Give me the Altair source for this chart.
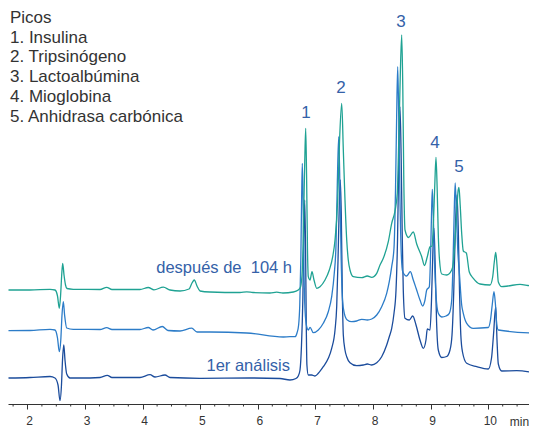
import altair as alt
import pandas as pd

# ---------------- data (time in min, signal in arbitrary units incl. offset) -------------
dark_t = [1.670, 2.043, 2.391, 2.477, 2.530, 2.564, 2.590, 2.608, 2.630, 2.651, 2.681, 2.738,
          2.911, 3.259, 3.385, 3.467, 3.953, 4.127, 4.214, 4.387, 4.474, 4.995, 5.863, 6.384,
          6.557, 6.661, 6.701, 6.731, 6.757, 6.780, 6.797, 6.813, 6.828, 6.839, 6.851, 6.875,
          6.934, 6.991, 7.049, 7.135, 7.222, 7.281, 7.339, 7.368, 7.391, 7.413, 7.431, 7.448,
          7.465, 7.483, 7.512, 7.542, 7.599, 7.715, 7.830, 7.899, 7.976, 8.063, 8.149, 8.236,
          8.281, 8.323, 8.363, 8.398, 8.424, 8.446, 8.467, 8.488, 8.507, 8.524, 8.554, 8.628,
          8.688, 8.745, 8.814, 8.872, 8.918, 8.941, 8.988, 9.014, 9.036, 9.057, 9.078, 9.101,
          9.132, 9.191, 9.278, 9.335, 9.370, 9.401, 9.427, 9.457, 9.479, 9.500, 9.523, 9.552,
          9.625, 9.799, 10.000, 10.056, 10.090, 10.129, 10.151, 10.174, 10.233, 10.493, 10.845]
dark_v = [25, 25.5, 26.5, 25, 18, 2.3, 18, 43, 58, 43, 29, 25,
          25, 25.5, 27.7, 25.5, 25.5, 28.3, 26, 28, 25.5, 24.7, 25, 24.5,
          23, 24.5, 27, 33, 58, 103, 163, 203, 153, 83, 38, 28,
          28, 27, 29.7, 36.3, 44.7, 54.7, 73, 96.3, 143, 198, 223, 188,
          113, 68, 53, 46.3, 40.3, 37.3, 38, 39, 38, 40.3, 46.3, 58,
          66.3, 74.7, 89.7, 113, 163, 243, 296.3, 243, 163, 113, 84.7, 83,
          87, 78, 63, 54.7, 63, 74, 73, 103, 148, 174.7, 138, 83,
          53, 45.5, 46.5, 53, 68, 113, 173, 208, 173, 113, 68, 51,
          39.7, 36.3, 34, 45, 68, 96.3, 63, 39, 32, 32.3, 29.7]

mid_t = [1.670, 2.043, 2.391, 2.477, 2.521, 2.552, 2.578, 2.599, 2.622, 2.644, 2.681, 2.795,
         3.259, 3.375, 3.467, 3.953, 4.097, 4.179, 4.340, 4.439, 4.648, 4.851, 4.943, 5.168,
         5.806, 6.441, 6.557, 6.644, 6.679, 6.707, 6.727, 6.745, 6.759, 6.771, 6.785, 6.800,
         6.818, 6.847, 6.875, 6.905, 6.962, 7.049, 7.135, 7.222, 7.281, 7.326, 7.356, 7.380,
         7.403, 7.425, 7.446, 7.469, 7.500, 7.552, 7.628, 7.715, 7.802, 7.899, 7.976, 8.063,
         8.149, 8.236, 8.281, 8.323, 8.363, 8.389, 8.408, 8.427, 8.446, 8.467, 8.490, 8.514,
         8.583, 8.646, 8.698, 8.745, 8.814, 8.861, 8.901, 8.931, 8.976, 9.000, 9.014, 9.028,
         9.045, 9.066, 9.092, 9.132, 9.191, 9.266, 9.323, 9.365, 9.384, 9.405, 9.425, 9.448,
         9.470, 9.497, 9.538, 9.566, 9.625, 9.740, 10.000, 10.038, 10.068, 10.099, 10.125,
         10.148, 10.174, 10.845]
mid_v = [72.3, 72.5, 73.7, 73, 65, 51.3, 63, 88, 101.3, 88, 75, 73.7,
         73.5, 75.3, 73.5, 73.5, 75.5, 73, 76.5, 72.5, 72, 74.8, 71, 71,
         70, 66, 66.3, 66.3, 70, 78, 98, 143, 203, 239.7, 203, 133,
         93, 76.3, 73, 75.7, 70.3, 73, 79.7, 91.3, 106.3, 129.7, 158, 223,
         266.3, 213, 143, 103, 89.7, 83, 81.3, 82, 83.7, 83, 84, 88,
         96.3, 109.7, 121.3, 136.3, 155, 213, 283, 336.3, 283, 203, 148, 131.3,
         127, 131.3, 123, 115, 103, 97, 103, 113, 116.3, 153, 188, 213.7,
         188, 143, 108, 89.7, 86, 87, 89.7, 103, 133, 183, 220, 188,
         153, 131, 98, 89.7, 79.7, 74.7, 75.5, 83, 98, 111.3, 98,
         78, 73, 69.7]

teal_t = [1.670, 2.043, 2.391, 2.477, 2.521, 2.552, 2.575, 2.594, 2.611, 2.634, 2.660, 2.686,
          2.795, 3.259, 3.375, 3.467, 3.953, 4.097, 4.196, 4.358, 4.474, 4.648, 4.804, 4.856,
          4.896, 4.943, 4.995, 5.168, 5.689, 5.806, 5.915, 6.210, 6.326, 6.436, 6.615, 6.701,
          6.740, 6.771, 6.793, 6.814, 6.830, 6.845, 6.861, 6.875, 6.905, 6.939, 6.974, 7.021,
          7.078, 7.165, 7.240, 7.299, 7.339, 7.385, 7.418, 7.455, 7.483, 7.512, 7.542, 7.569,
          7.599, 7.656, 7.802, 7.899, 7.976, 8.063, 8.120, 8.177, 8.264, 8.323, 8.380, 8.420,
          8.446, 8.472, 8.497, 8.516, 8.533, 8.554, 8.615, 8.698, 8.757, 8.844, 8.892, 8.941,
          8.988, 9.023, 9.049, 9.071, 9.092, 9.113, 9.132, 9.153, 9.191, 9.278, 9.365, 9.392,
          9.422, 9.453, 9.477, 9.491, 9.512, 9.538, 9.566, 9.618, 9.670, 9.740, 9.856, 10.030,
          10.076, 10.104, 10.129, 10.151, 10.174, 10.233, 10.342, 10.551, 10.689, 10.845]
teal_v = [113, 113, 113.7, 113, 107, 94.7, 108, 128, 139.7, 128, 118, 114.5,
          113.7, 113.5, 115.7, 113.5, 113.5, 115.5, 113.2, 115.8, 113, 112, 114, 120,
          123, 117, 112, 111, 110.5, 111.2, 110.5, 110, 110.8, 110, 111, 113,
          116, 133, 183, 243, 274.7, 228, 153, 126.3, 123, 131.3, 123, 114.7,
          116.3, 123, 133, 146.3, 163, 203, 263, 299.7, 253, 203, 163, 143,
          133, 126.3, 125.3, 127, 125.7, 129.7, 138, 144.7, 161.3, 179.7, 192, 209.7,
          263, 328, 368, 313, 223, 173, 165.5, 171, 159, 146.3, 137.5, 146.3,
          156.3, 157, 183, 218, 245.7, 213, 168, 143, 129, 128, 133, 139.7,
          163, 193, 213, 215.7, 198, 169.7, 152, 150, 131, 124.7, 119, 118,
          126, 141, 150.7, 138, 121, 116.3, 117, 118.7, 117.5, 116]

major_ticks = [2, 3, 4, 5, 6, 7, 8, 9, 10]
minor_ticks = [1.75, 2.25, 2.5, 2.75, 3.25, 3.5, 3.75, 4.25, 4.5, 4.75, 5.25, 5.5, 5.75,
               6.25, 6.5, 6.75, 7.25, 7.5, 7.75, 8.25, 8.5, 8.75, 9.25, 9.5, 9.75,
               10.25, 10.5]

peak_labels = ["1", "2", "3", "4", "5"]
peak_label_t = [6.835, 7.443, 8.484, 9.075, 9.491]
peak_label_v = [290, 315, 381, 260, 236]

legend_lines = ["Picos", "1. Insulina", "2. Tripsinógeno", "3. Lactoalbúmina",
                "4. Mioglobina", "5. Anhidrasa carbónica"]

trace_names = ["1er análisis", "intermedio", "después de\u00a0\u00a0104 h"]
trace_colors = ["#1b4c9c", "#2c7cc8", "#1fa293"]
trace_label_t = [6.557, None, 6.592]
trace_label_v = [37, None, 135]

# ---------------- build tables -------------
rows = []
for name, ts, vs in zip(trace_names, [dark_t, mid_t, teal_t], [dark_v, mid_v, teal_v]):
    for i, (t, v) in enumerate(zip(ts, vs)):
        rows.append({"serie": name, "t": t, "v": v, "orden": i})
df = pd.DataFrame(rows)

peaks_df = pd.DataFrame({"lab": peak_labels, "t": peak_label_t, "v": peak_label_v})
tl_df = pd.DataFrame({"lab": [trace_names[0], trace_names[2]],
                      "t": [trace_label_t[0], trace_label_t[2]],
                      "v": [trace_label_v[0], trace_label_v[2]]})
leg_df = pd.DataFrame({"lab": legend_lines, "i": list(range(len(legend_lines)))})
minor_df = pd.DataFrame({"t": minor_ticks})

W, H = 521, 396
PX_PER_MIN = 57.6
T0 = 1.6615
FONT = "Liberation Sans"

xscale = alt.Scale(domain=[T0, T0 + W / PX_PER_MIN], nice=False, zero=False)
yscale = alt.Scale(domain=[-1, 395], nice=False, zero=False)

xaxis = alt.Axis(values=major_ticks, title="min", grid=False, tickSize=5,
                 labelOverlap=False, labelFlush=False, labelOffset=1.5,
                 labelPadding=6, labelFontSize=12, labelFont=FONT, labelColor="#333",
                 domainColor="#333", tickColor="#333", domainWidth=1, tickWidth=1,
                 titleFont=FONT, titleFontSize=12, titleFontWeight="normal",
                 titleColor="#333", titleX=511, titleY=17, titleAlign="center",
                 titleBaseline="middle", titleAngle=0, orient="bottom")

lines = alt.Chart(df).mark_line(strokeWidth=1.3, interpolate="monotone", clip=True).encode(
    x=alt.X("t:Q", scale=xscale, axis=xaxis),
    y=alt.Y("v:Q", scale=yscale, axis=None),
    color=alt.Color("serie:N", scale=alt.Scale(domain=trace_names, range=trace_colors),
                    legend=None),
    order="orden:Q",
    detail="serie:N",
)

minor = alt.Chart(minor_df).mark_rule(color="#333", strokeWidth=1).encode(
    x=alt.X("t:Q", scale=xscale, axis=xaxis),
    y=alt.value(H),
    y2=alt.value(H + 2.5),
)

peaks = alt.Chart(peaks_df).mark_text(font=FONT, fontSize=17, color="#3461a8",
                                      baseline="middle", align="center").encode(
    x=alt.X("t:Q", scale=xscale, axis=xaxis),
    y=alt.Y("v:Q", scale=yscale, axis=None), text="lab:N")

tlabels = alt.Chart(tl_df).mark_text(font=FONT, fontSize=16.5, color="#3461a8",
                                     baseline="middle", align="right").encode(
    x=alt.X("t:Q", scale=xscale, axis=xaxis),
    y=alt.Y("v:Q", scale=yscale, axis=None), text="lab:N")

legend = alt.Chart(leg_df).mark_text(font=FONT, fontSize=17, color="#333",
                                     baseline="middle", align="left").encode(
    x=alt.value(2),
    y=alt.Y("i:Q", scale=alt.Scale(domain=[0, 5], range=[10, 108.5]), axis=None),
    text="lab:N")

chart = alt.layer(lines, minor, peaks, tlabels, legend).resolve_scale(
    y="independent").properties(
    width=W, height=H,
    autosize=alt.AutoSizeParams(type="none"),
    padding={"left": 0, "top": 0, "right": 0, "bottom": 23},
).configure_view(stroke=None)

chart.save("out.html", embed_options={"renderer": "svg", "actions": False})
